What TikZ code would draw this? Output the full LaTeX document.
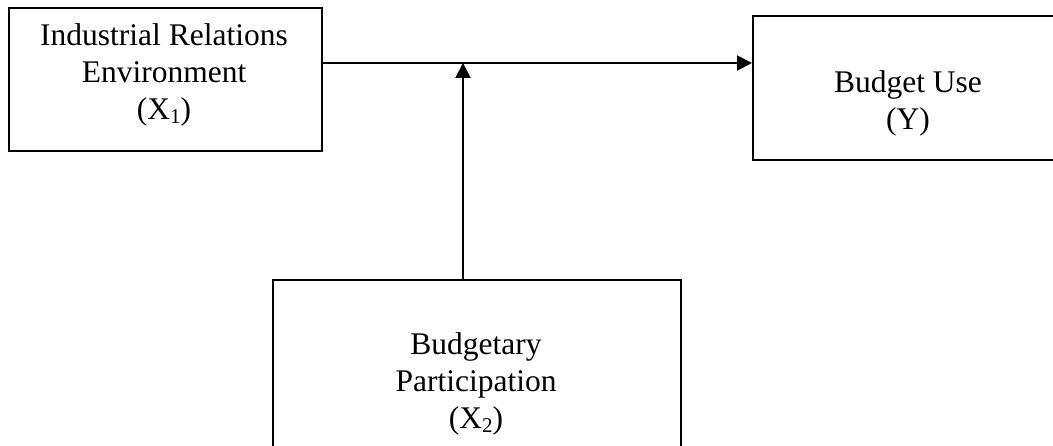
\documentclass[tikz,border=0pt]{standalone}
\usepackage{fontspec}
\setmainfont{Liberation Serif}
\usetikzlibrary{arrows.meta}
\newcommand{\sbs}[1]{\raisebox{-0.12em}{\fontsize{21}{21}\selectfont #1}}
\tikzset{
  boxnode/.style={draw=black, line width=2pt, rectangle, inner sep=0pt, anchor=north west},
  label text/.style={align=center, inner sep=0pt, font=\fontsize{31.5}{37}\selectfont},
  arr/.style={line width=2pt, -{Triangle[length=15pt,width=15pt]}}
}
\begin{document}
\begin{tikzpicture}[x=1pt,y=-1pt]
\useasboundingbox (0,0) rectangle (1053,446);
\clip (0,0) rectangle (1053,446);
\fill[white] (0,0) rectangle (1053,446);
% boxes
\node[boxnode, minimum width=313pt, minimum height=143pt] (lbox) at (8,7) {};
\node[boxnode, minimum width=312pt, minimum height=144pt] (rbox) at (752,15) {};
\node[boxnode, minimum width=408pt, minimum height=200pt] (bbox) at (272,279) {};
% texts
\node[label text] (ltext) at (164,75) {Industrial Relations\\Environment\\(X\sbs{1})};
\node[label text] (rtext) at (908,103) {Budget Use\\(Y)};
\node[label text] (btext) at (476,384) {Budgetary\\Participation\\(X\sbs{2})};
% connectors
\coordinate (j) at (463,63);
\draw[arr] (lbox.east |- j) -- (rbox.west |- j);
\draw[arr] (bbox.north -| j) -- (j);
\end{tikzpicture}
\end{document}
